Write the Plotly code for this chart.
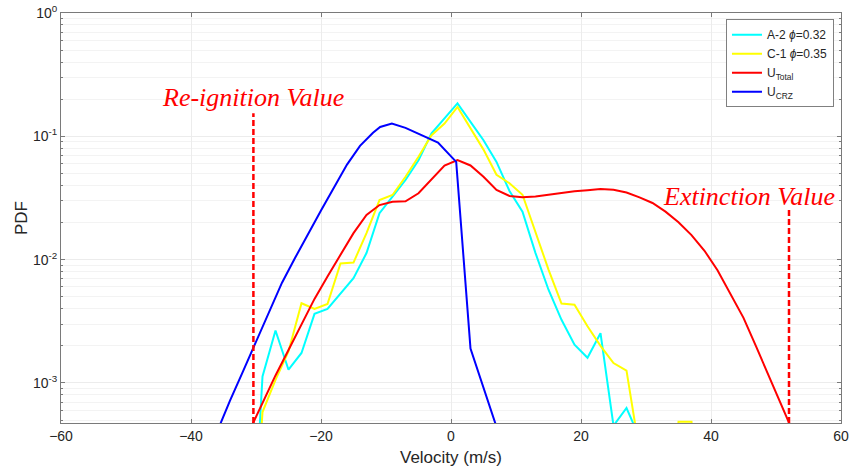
import plotly.graph_objects as go

# velocity bins (m/s) shared by the two flame cases
vel_bins = [-31, -29, -27, -25, -23, -21, -19, -17, -15, -13, -11, -9, -7, -5, -3, -1,
            1, 3, 5, 7, 9, 11, 13, 15, 17, 19, 21, 23, 25, 27, 29, 31, 33, 35, 37, 39]

pdf_a2 = [1.5e-5, 1.13e-3, 2.66e-3, 1.28e-3, 1.75e-3, 3.63e-3, 3.98e-3, 5.35e-3, 7.08e-3,
          0.0113, 0.0238, 0.0324, 0.0442, 0.064, 0.1056, 0.1396, 0.1847, 0.131, 0.093,
          0.062, 0.036, 0.0245, 0.0113, 5.7e-3, 3.25e-3, 2.04e-3, 1.6e-3, 2.53e-3, 4.5e-4,
          6.26e-4, 3.6e-4, 1e-5, 1e-5, 1e-5, 1e-5, 1e-5]

pdf_c1 = [1.5e-5, 5.8e-4, 1.06e-3, 1.8e-3, 4.43e-3, 3.98e-3, 4.37e-3, 9.3e-3, 9.46e-3,
          0.0164, 0.0304, 0.0334, 0.047, 0.0682, 0.102, 0.127, 0.173, 0.117, 0.078,
          0.0488, 0.0416, 0.0336, 0.0164, 8.3e-3, 4.4e-3, 4.3e-3, 2.88e-3, 2.0e-3, 1.45e-3,
          1.26e-3, 2.8e-4, 1e-5, 1e-5, 4.85e-4, 4.85e-4, 1e-5]

vel_total = [-31, -29, -27, -25, -23, -21, -19, -17, -15, -13, -11, -9, -7, -5, -3, -1,
             1, 3, 5, 7, 9, 11, 13, 15, 17, 19, 21, 23, 25, 27, 29, 31, 33, 35, 37, 39,
             41, 43, 45, 47, 49, 51, 52.2]
pdf_total = [4.1e-4, 6.9e-4, 1.15e-3, 1.85e-3, 3.0e-3, 4.8e-3, 7.3e-3, 0.0108, 0.0164,
             0.023, 0.0277, 0.0295, 0.0297, 0.0345, 0.045, 0.058, 0.0642, 0.058, 0.047,
             0.0367, 0.0328, 0.032, 0.0325, 0.0337, 0.035, 0.0358, 0.0366, 0.0374, 0.0368,
             0.035, 0.032, 0.0288, 0.0245, 0.0201, 0.0158, 0.0118, 8.2e-3, 5.3e-3, 3.37e-3,
             1.94e-3, 1.1e-3, 6.1e-4, 4.5e-4]

vel_crz = [-36, -34, -32, -30, -28, -26, -24, -22, -20, -18, -16, -14, -12, -10.9, -9.1,
           -7, -5, -2, 0.8, 3.0, 7.0]
pdf_crz = [4.0e-4, 7.2e-4, 1.24e-3, 2.15e-3, 3.7e-3, 6.5e-3, 0.0103, 0.0162, 0.025, 0.0385,
           0.059, 0.0837, 0.1067, 0.119, 0.127, 0.117, 0.105, 0.089, 0.062, 1.9e-3, 4.4e-4]

# limit markers
reignition_vel = -30.4
reignition_top = 0.154
extinction_vel = 52.0
extinction_top = 0.0252
y_floor = 4.73e-4

fig = go.Figure()

fig.add_trace(go.Scatter(x=vel_bins, y=pdf_a2, mode="lines", name="A-2 <i>ϕ</i>=0.32",
                         line=dict(color="#00ffff", width=2)))
fig.add_trace(go.Scatter(x=vel_bins, y=pdf_c1, mode="lines", name="C-1 <i>ϕ</i>=0.35",
                         line=dict(color="#ffff00", width=2)))
fig.add_trace(go.Scatter(x=vel_total, y=pdf_total, mode="lines", name="U<sub>Total</sub>",
                         line=dict(color="#ff0000", width=2)))
fig.add_trace(go.Scatter(x=vel_crz, y=pdf_crz, mode="lines", name="U<sub>CRZ</sub>",
                         line=dict(color="#0000ff", width=2)))

# dashed vertical limit lines
for xv, top in [(reignition_vel, reignition_top), (extinction_vel, extinction_top)]:
    fig.add_trace(go.Scatter(x=[xv, xv], y=[y_floor, top], mode="lines", showlegend=False,
                             line=dict(color="#ff0000", width=2.5, dash="6px,3px")))

serif = dict(family="Liberation Serif, Times New Roman, serif", size=26, color="#ff0000")
fig.add_annotation(x=reignition_vel, y=-0.683, xref="x", yref="y", text="<i>Re-ignition Value</i>",
                   showarrow=False, font=serif, xanchor="center", yanchor="middle")
fig.add_annotation(x=45.85, y=-1.492, xref="x", yref="y", text="<i>Extinction Value</i>",
                   showarrow=False, font=serif, xanchor="center", yanchor="middle")

minor_vals = [m * 10 ** e for e in range(-4, 0) for m in range(2, 10)]

fig.update_layout(
    width=851,
    height=471,
    margin=dict(l=61, r=10, t=13, b=48),
    plot_bgcolor="white",
    paper_bgcolor="white",
    font=dict(family="Liberation Sans, Arial, sans-serif", size=14, color="#262626"),
    legend=dict(
        x=0.991, y=0.985, xanchor="right", yanchor="top",
        bgcolor="white", bordercolor="#808080", borderwidth=1,
        font=dict(size=12, color="#262626"),
        tracegroupgap=0, itemwidth=30,
    ),
)

fig.update_xaxes(
    range=[-60, 60],
    automargin=False,
    ticklabeloverflow="allow",
    tickvals=[-60, -40, -20, 0, 20, 40, 60],
    title=dict(text="Velocity (m/s)", standoff=8),
    showline=True, linecolor="#7a7a7a", linewidth=1, mirror="ticks",
    ticks="inside", ticklen=4, tickcolor="#7a7a7a",
    showgrid=True, gridcolor="#ececec", zeroline=False,
)
fig.update_yaxes(
    type="log",
    range=[-3.325, 0],
    automargin=False,
    ticklabeloverflow="allow",
    tickvals=[1e-3, 1e-2, 1e-1, 1],
    ticktext=["10<sup>-3</sup>", "10<sup>-2</sup>", "10<sup>-1</sup>", "10<sup>0</sup>"],
    title=dict(text="PDF", standoff=0),
    showline=True, linecolor="#7a7a7a", linewidth=1, mirror="ticks",
    ticks="inside", ticklen=4, tickcolor="#7a7a7a",
    showgrid=True, gridcolor="#ececec", zeroline=False,
    minor=dict(tickvals=minor_vals, ticks="inside", ticklen=2, tickcolor="#7a7a7a",
               showgrid=True, gridcolor="#f3f3f3"),
)

# drop the default page margin so the figure sits at the window's corner
fig.write_html("out.html", config={"displayModeBar": False},
               post_script="document.body.style.margin='0';"
                           "document.body.style.overflow='hidden';")
